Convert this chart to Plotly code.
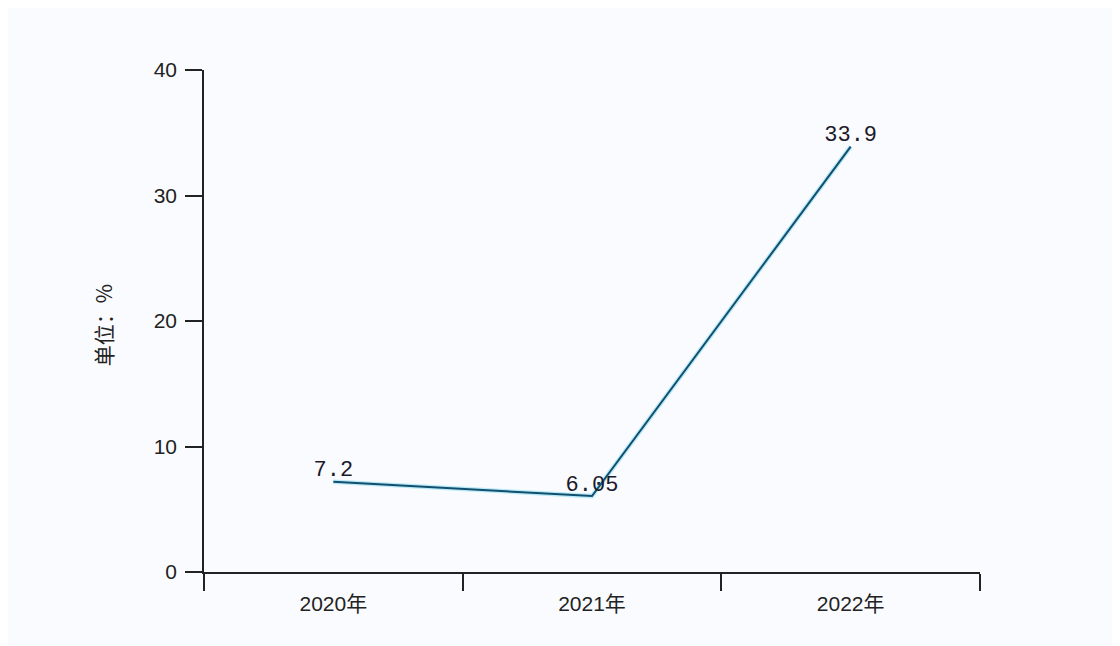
import plotly.graph_objects as go

years = ["2020年", "2021年", "2022年"]
values = [7.2, 6.05, 33.9]
value_labels = ["7.2", "6.05", "33.9"]
y_ticks = [0, 10, 20, 30, 40]
y_title = "单位：%"

fig = go.Figure()
fig.add_trace(go.Scatter(
    x=years, y=values, mode="lines",
    line=dict(color="rgba(60,200,235,0.35)", width=4.5),
    hoverinfo="skip", showlegend=False,
))
fig.add_trace(go.Scatter(
    x=years, y=values, mode="lines+text",
    line=dict(color="#124f6e", width=2),
    text=value_labels, textposition="top center",
    textfont=dict(family="Liberation Mono, DejaVu Sans Mono, monospace", size=22, color="#1a1a2a"),
    showlegend=False,
))

fig.update_layout(
    width=1120, height=646,
    margin=dict(l=196, r=148, t=62, b=82),
    paper_bgcolor="#fafbfe", plot_bgcolor="#fafbfe",
    font=dict(family="Liberation Sans, Arial, sans-serif", size=20, color="#222222"),
    xaxis=dict(
        type="category", range=[-0.5, 2.5], tickson="boundaries",
        showline=True, linecolor="#222222", linewidth=1.5,
        ticks="outside", ticklen=17, tickwidth=1.5, tickcolor="#222222",
        showgrid=False, zeroline=False, ticklabelstandoff=12,
        tickfont=dict(family="Liberation Sans, Noto Sans CJK SC, sans-serif", size=21, color="#222222"),
    ),
    yaxis=dict(
        range=[0, 40], tickvals=y_ticks,
        showline=True, linecolor="#222222", linewidth=1.5,
        ticks="outside", ticklen=17, tickwidth=1.5, tickcolor="#222222",
        showgrid=False, zeroline=False, ticklabelstandoff=4,
        tickfont=dict(family="Liberation Sans, sans-serif", size=21, color="#222222"),
    ),
    annotations=[dict(
        text=y_title, xref="paper", yref="paper",
        x=-0.13, y=0.492, xanchor="center", yanchor="middle",
        textangle=-90, showarrow=False,
        font=dict(family="Noto Sans CJK SC, sans-serif", size=21, color="#222222"),
    )],
)

fig.write_html("out.html")
